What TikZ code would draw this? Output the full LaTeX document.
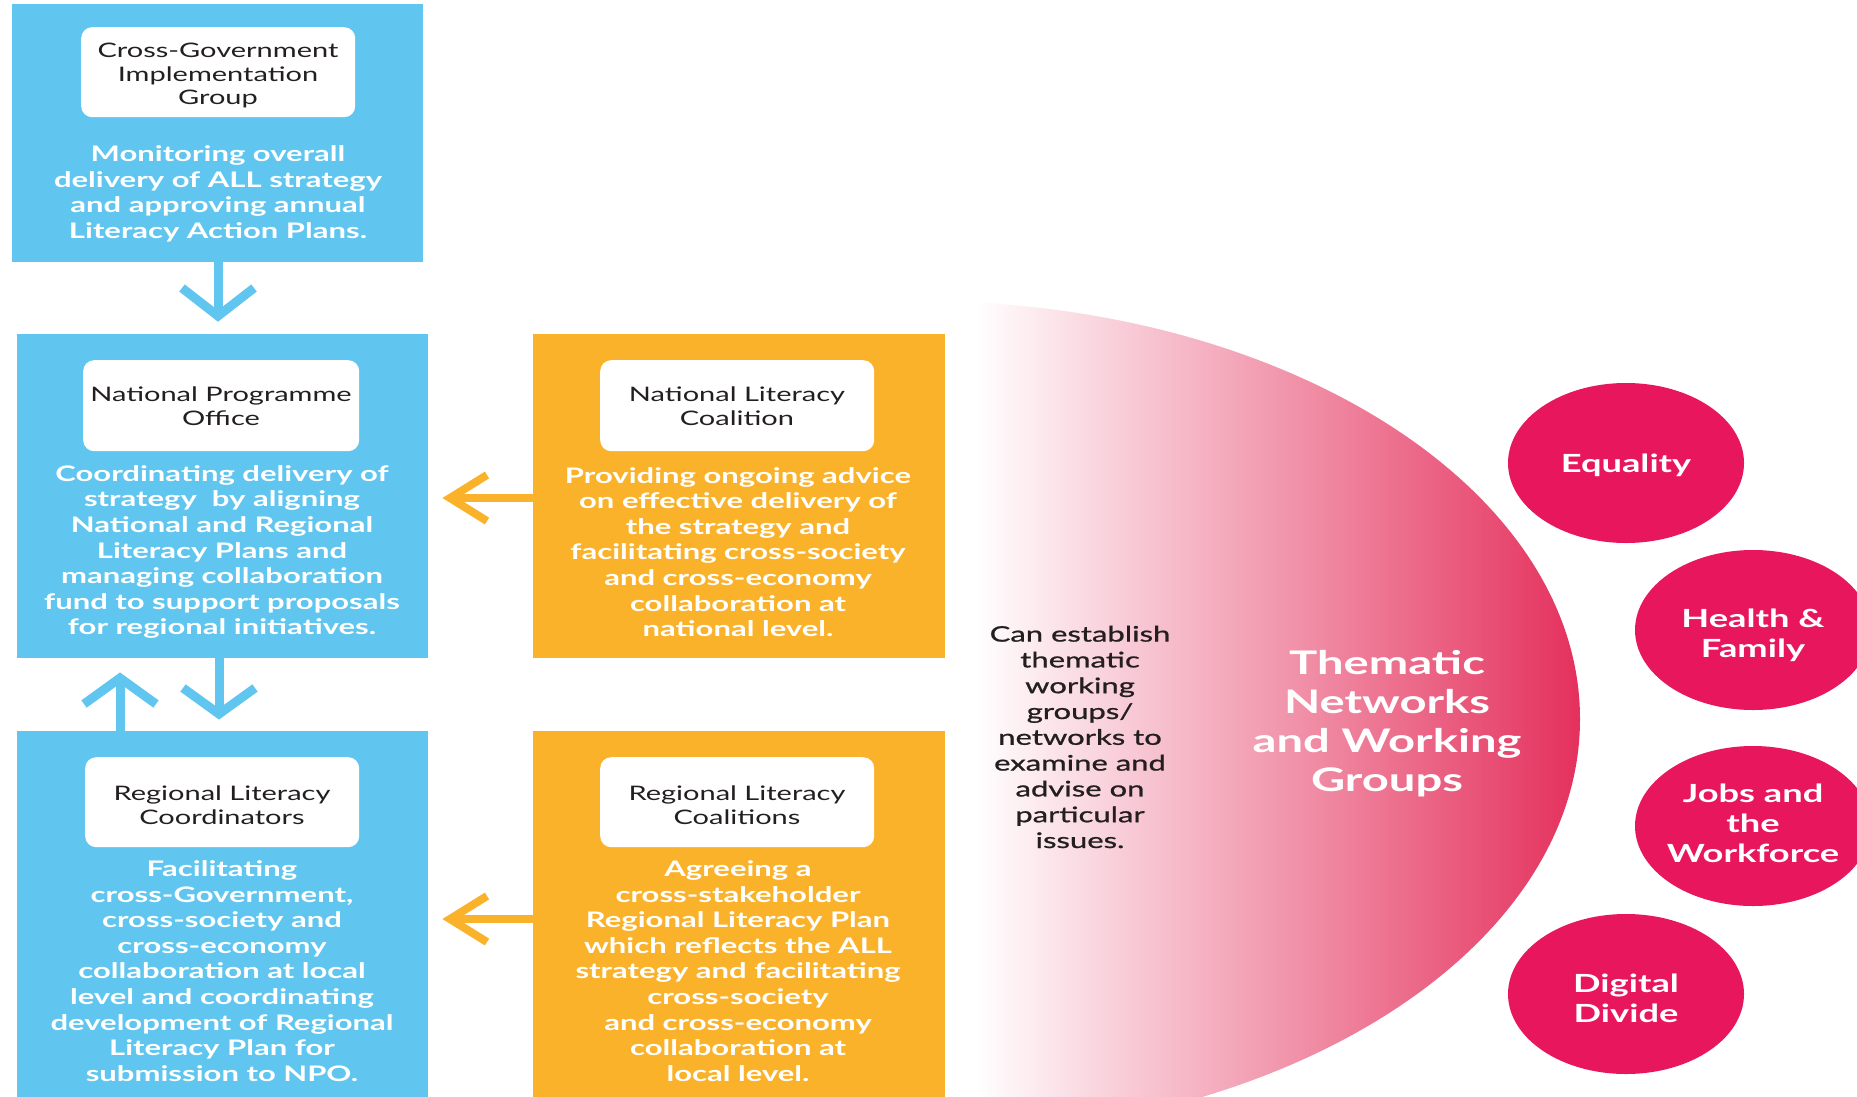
\documentclass[tikz,border=0pt]{standalone}
\usepackage{fontspec}
\newfontfamily\lato{Lato}[FakeStretch=1.45]
\newfontfamily\latoSB{Lato}[FakeStretch=1.45,FakeBold=0.9]
\usetikzlibrary{shapes.geometric,calc}
\definecolor{skyb}{RGB}{96,198,239}
\definecolor{orng}{RGB}{251,178,43}
\definecolor{pinkc}{RGB}{232,23,93}
\definecolor{pinkg}{RGB}{228,48,92}
\definecolor{ink}{RGB}{35,31,32}
\newcommand\dscF{\lato\bfseries\fontsize{21.4}{25.6}\selectfont}
\newcommand\ttlF{\lato\fontsize{20}{23.8}\selectfont}
\newcommand\cirF{\lato\bfseries\fontsize{25}{30}\selectfont}
\newcommand\bigF{\lato\bfseries\fontsize{32.5}{39}\selectfont}
\newcommand\canF{\latoSB\fontsize{21.4}{25.8}\selectfont}
\begin{document}
\begin{tikzpicture}[x=1pt,y=-1pt,
  panel/.style={anchor=north west,inner sep=0pt,outer sep=0pt},
  bluepanel/.style={panel,fill=skyb},
  orngpanel/.style={panel,fill=orng},
  titlebox/.style={anchor=north west,fill=white,rounded corners=11pt,inner sep=0pt},
  title/.style={align=center,text=ink,font=\ttlF,inner sep=0pt},
  desc/.style={align=center,text=white,font=\dscF,inner sep=0pt},
  barrow/.style={draw=skyb,line width=9pt,line cap=butt,line join=miter},
  oarrow/.style={draw=orng,line width=8pt,line cap=butt,line join=miter},
  bubble/.style={ellipse,fill=pinkc,minimum width=236pt,minimum height=160pt,inner sep=0pt},
  bubtext/.style={align=center,text=white,font=\cirF,inner sep=0pt}]
\useasboundingbox[fill=white] (0,0) rectangle (1857,1097);

% ---- left column (blue) ----
\node[bluepanel,minimum width=411pt,minimum height=258pt] (cgig) at (12,4) {};
\node[titlebox,minimum width=274pt,minimum height=90pt] (cgigT) at (81,27) {};
\node[title] (cgigTt) at (218,75.5) {Cross-Government\\Implementation\\Group};
\node[desc] (cgigD) at (218,194)
  {Monitoring overall\\delivery of ALL strategy\\and approving annual\\Literacy Action Plans.};

\node[bluepanel,minimum width=411pt,minimum height=324pt] (npo) at (17,334) {};
\node[titlebox,minimum width=276pt,minimum height=91pt] (npoT) at (83,360) {};
\node[title] (npoTt) at (221,406) {National Programme\\Office};
\node[desc] (npoD) at (222,552)
  {Coordinating delivery of\\strategy\ \ by aligning\\National and Regional\\Literacy Plans and\\managing collaboration\\fund to support proposals\\for regional initiatives.};

\node[bluepanel,minimum width=411pt,minimum height=370pt] (rlco) at (17,731) {};
\node[titlebox,minimum width=274pt,minimum height=90pt] (rlcoT) at (85,757) {};
\node[title] (rlcoTt) at (222,805) {Regional Literacy\\Coordinators};
\node[desc] (rlcoD) at (222,971)
  {Facilitating\\cross-Government,\\cross-society and\\cross-economy\\collaboration at local\\level and coordinating\\development of Regional\\Literacy Plan for\\submission to NPO.};

% ---- middle column (orange) ----
\node[orngpanel,minimum width=412pt,minimum height=324pt] (nlc) at (533,334) {};
\node[titlebox,minimum width=274pt,minimum height=91pt] (nlcT) at (600,360) {};
\node[title] (nlcTt) at (737,406) {National Literacy\\Coalition};
\node[desc] (nlcD) at (738,552)
  {Providing ongoing advice\\on effective delivery of\\the strategy and\\facilitating cross-society\\and cross-economy\\collaboration at\\national level.};

\node[orngpanel,minimum width=412pt,minimum height=370pt] (rlcs) at (533,731) {};
\node[titlebox,minimum width=274pt,minimum height=90pt] (rlcsT) at (600,757) {};
\node[title] (rlcsTt) at (737,805) {Regional Literacy\\Coalitions};
\node[desc] (rlcsD) at (738,971)
  {Agreeing a\\cross-stakeholder\\Regional Literacy Plan\\which reflects the ALL\\strategy and facilitating\\cross-society\\and cross-economy\\collaboration at\\local level.};

% ---- arrows ----
\coordinate (t1) at (218,316);
\draw[barrow] (cgig.south -| t1) -- (t1);
\draw[barrow] ($(t1)+(-36,-28)$) -- (t1) -- ($(t1)+(36,-28)$);

\coordinate (t2) at (219,714);
\draw[barrow] (npo.south -| t2) -- (t2);
\draw[barrow] ($(t2)+(-36,-26)$) -- (t2) -- ($(t2)+(36,-26)$);

\coordinate (t3) at (120,678);
\draw[barrow] (rlco.north -| t3) -- (t3);
\draw[barrow] ($(t3)+(-36,26)$) -- (t3) -- ($(t3)+(36,26)$);

\coordinate (t4) at (450,498);
\draw[oarrow] (nlc.west |- t4) -- (t4);
\draw[oarrow] ($(t4)+(37,-23)$) -- (t4) -- ($(t4)+(37,23)$);

\coordinate (t5) at (450,919);
\draw[oarrow] (rlcs.west |- t5) -- (t5);
\draw[oarrow] ($(t5)+(37,-23)$) -- (t5) -- ($(t5)+(37,23)$);

% ---- thematic half-disc ----
\begin{scope}
  \clip (920,719) ellipse [x radius=660pt, y radius=418pt];
  \shade[left color=white,right color=pinkg] (975,280) rectangle (1581,1100);
\end{scope}
\node[align=center,text=ink,font=\canF,inner sep=0pt] (can) at (1080,737)
  {Can establish\\thematic\\working\\groups/\\networks to\\examine and\\advise on\\particular\\issues.};
\node[align=center,text=white,font=\bigF,inner sep=0pt] (them) at (1387,724)
  {Thematic\\Networks\\and Working\\Groups};

% ---- bubbles ----
\node[bubble] (eq) at (1626,463) {};
\node[bubble] (hf) at (1753,630) {};
\node[bubble] (jw) at (1753,826) {};
\node[bubble] (dd) at (1626,994) {};
\node[bubtext] (eqt) at ($(eq)+(0,2)$) {Equality};
\node[bubtext] (hft) at ($(hf)+(0,5)$) {Health \&\\Family};
\node[bubtext] (jwt) at ($(jw)+(0,-3)$) {Jobs and\\the\\Workforce};
\node[bubtext] (ddt) at ($(dd)+(0,4)$) {Digital\\Divide};
\end{tikzpicture}
\end{document}
